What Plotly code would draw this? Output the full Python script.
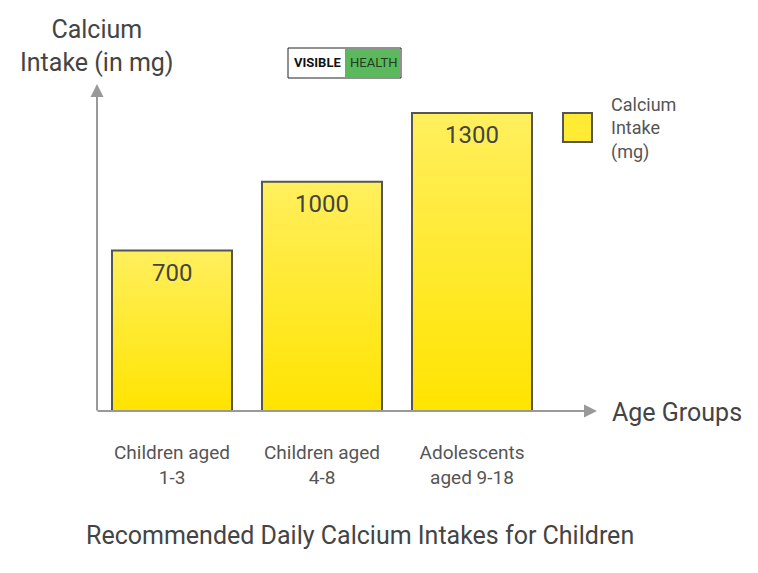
import plotly.graph_objects as go

categories = ["Children aged<br>1-3", "Children aged<br>4-8", "Adolescents<br>aged 9-18"]
values = [700, 1000, 1300]
series_name = "Calcium<br>Intake<br>(mg)"

OFF = 8  # page body margin
W, H = 758 - OFF, 573 - OFF
L, R, T, B = 97 - OFF, 595 - OFF, 85 - OFF, 411 - OFF


def px(x):
    return (x - OFF - L) / (R - L)


def py(y):
    return (B - (y - OFF)) / (B - T)


fig = go.Figure()
for i, v in enumerate(values):
    fig.add_trace(go.Scatter(
        x=[i - 0.4, i + 0.4, i + 0.4, i - 0.4, i - 0.4],
        y=[0, 0, v, v, 0],
        mode="lines", fill="toself",
        fillgradient=dict(type="vertical",
                          colorscale=[[0, "#FFE400"], [1, "#FFEF5E"]]),
        line=dict(color="#555555", width=2),
        showlegend=False, hoverinfo="skip",
    ))

annotations = []
for i, v in enumerate(values):
    annotations.append(dict(x=i, y=v, xref="x", yref="y", text=str(v),
                            showarrow=False, yanchor="top", yshift=-6,
                            font=dict(size=24, color="#444444")))

# axis arrows
annotations.append(dict(x=px(97), y=py(84), ax=px(97), ay=py(412), xref="x domain", yref="y domain",
                        axref="x domain", ayref="y domain", showarrow=True, arrowhead=2,
                        arrowwidth=2, arrowcolor="#999999", arrowsize=1.3, text=""))
annotations.append(dict(x=px(597), y=py(411), ax=px(96), ay=py(411), xref="x domain", yref="y domain",
                        axref="x domain", ayref="y domain", showarrow=True, arrowhead=2,
                        arrowwidth=2, arrowcolor="#999999", arrowsize=1.3, text=""))

annotations += [
    dict(x=px(610), y=py(412), xref="paper", yref="paper", text="Age Groups",
         showarrow=False, xanchor="left", yanchor="middle",
         font=dict(size=25, color="#444444")),
    dict(x=px(97), y=py(46), xref="paper", yref="paper", text="Calcium<br>Intake (in mg)",
         showarrow=False, xanchor="center", yanchor="middle",
         font=dict(size=25, color="#444444")),
    dict(x=px(360), y=py(535), xref="paper", yref="paper",
         text="Recommended Daily Calcium Intakes for Children",
         showarrow=False, xanchor="center", yanchor="middle",
         font=dict(size=25, color="#444444")),
    dict(x=px(609), y=py(128), xref="paper", yref="paper", text=series_name,
         showarrow=False, xanchor="left", yanchor="middle", align="left",
         font=dict(size=18, color="#555555")),
    dict(x=px(317), y=py(63), xref="paper", yref="paper", text="<b>VISIBLE</b>",
         showarrow=False, xanchor="center", yanchor="middle",
         font=dict(size=13, color="#111111")),
    dict(x=px(373), y=py(63), xref="paper", yref="paper", text="HEALTH",
         showarrow=False, xanchor="center", yanchor="middle",
         font=dict(size=13, color="#1f3d1f")),
]

shapes = [
    dict(type="rect", xref="paper", yref="paper", x0=px(288), x1=px(401), y0=py(48), y1=py(78),
         line=dict(color="#222222", width=1), fillcolor="white"),
    dict(type="rect", xref="paper", yref="paper", x0=px(345), x1=px(400), y0=py(49), y1=py(77),
         line=dict(width=0), fillcolor="#5CB85C"),
    dict(type="rect", xref="paper", yref="paper", x0=px(563), x1=px(592), y0=py(113), y1=py(142),
         line=dict(color="#555555", width=2), fillcolor="#FFEB33"),
]

fig.update_layout(
    width=W, height=H,
    margin=dict(l=L, r=W - R, t=T, b=H - B),
    paper_bgcolor="white", plot_bgcolor="white",
    font=dict(family="Roboto", color="#555555"),
    showlegend=False,
    xaxis=dict(range=[-0.5, (R + OFF - 172) / 150.0], tickvals=list(range(len(categories))),
               ticktext=categories, showgrid=False, zeroline=False, showline=False,
               ticks="", tickfont=dict(size=19, color="#555555"), ticklabelstandoff=28,
               fixedrange=True),
    yaxis=dict(range=[0, 1422], showgrid=False, zeroline=False, showline=False,
               showticklabels=False, ticks="", fixedrange=True),
    annotations=annotations, shapes=shapes,
)

fig.write_html("out.html")
